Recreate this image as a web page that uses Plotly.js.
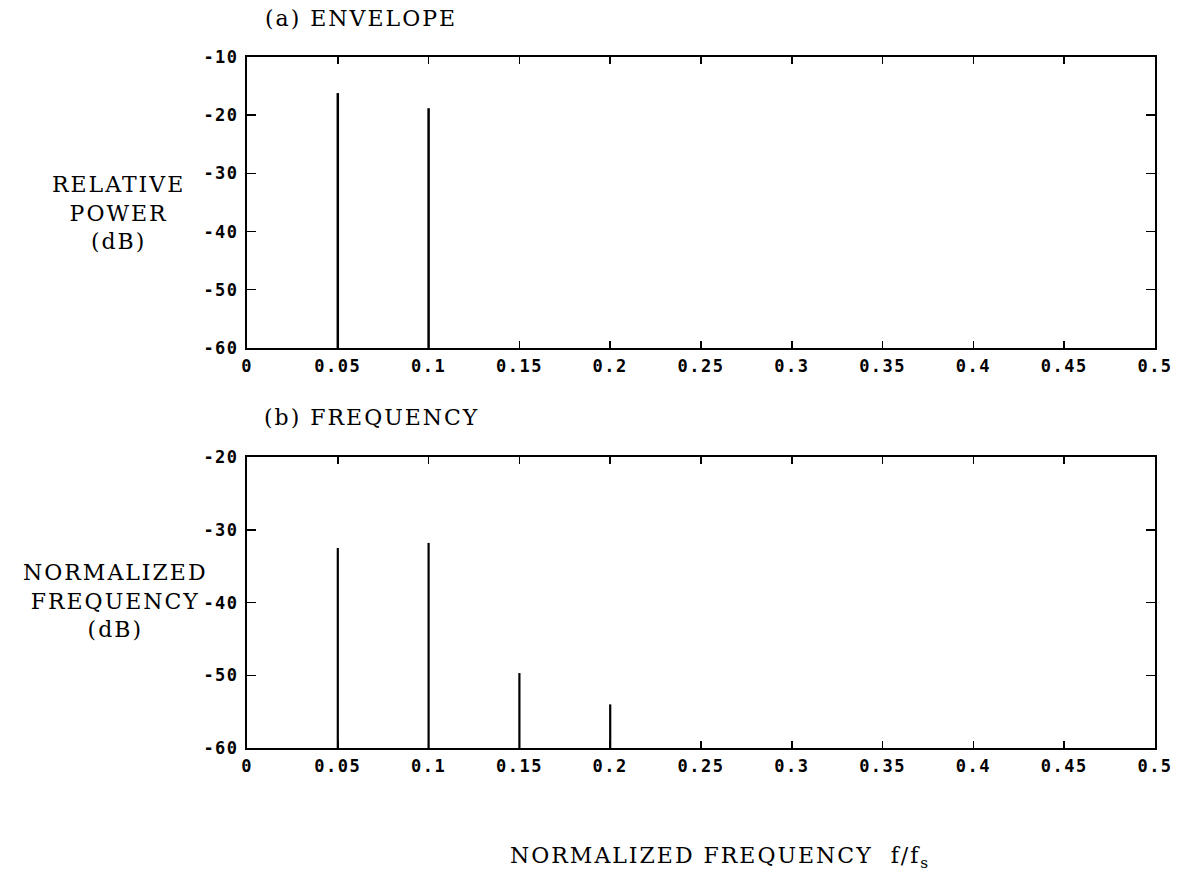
<!DOCTYPE html>
<html>
<head>
<meta charset="utf-8">
<script src="https://cdn.plot.ly/plotly-3.0.1.min.js"></script>
<style>
  html, body { margin: 0; padding: 0; background: #fff; }
  #chart { width: 1182px; height: 873px; }
  .annotation-text { letter-spacing: 2px; }
  .xtick text, .x2tick text, .ytick text, .y2tick text { letter-spacing: 1.5px; }
</style>
</head>
<body>
<div id="chart"></div>
<script>
// ---- Data ----
const envelopeFreq = [0.05, 0.1];
const envelopeDb   = [-16.2, -18.8];

const frequencyFreq = [0.05, 0.1, 0.15, 0.2];
const frequencyDb   = [-32.5, -31.8, -49.7, -54.0];

const xTickVals = [0, 0.05, 0.1, 0.15, 0.2, 0.25, 0.3, 0.35, 0.4, 0.45, 0.5];
const xTickText = ["0", "0.05", "0.1", "0.15", "0.2", "0.25", "0.3", "0.35", "0.4", "0.45", "0.5"];
const yTopTicks = [-60, -50, -40, -30, -20, -10];
const yBotTicks = [-60, -50, -40, -30, -20];
const floorDb = -60;

// Build spike (stem) polylines from the data arrays
function stems(fs, vs) {
  const x = [], y = [];
  fs.forEach((f, i) => { x.push(f, f, null); y.push(floorDb, vs[i], null); });
  return { x, y };
}
const sTop = stems(envelopeFreq, envelopeDb);
const sBot = stems(frequencyFreq, frequencyDb);

const traces = [
  { x: sTop.x, y: sTop.y, xaxis: 'x', yaxis: 'y', mode: 'lines',
    line: { color: '#000', width: 2.5 }, hoverinfo: 'skip', showlegend: false },
  { x: sBot.x, y: sBot.y, xaxis: 'x2', yaxis: 'y2', mode: 'lines',
    line: { color: '#000', width: 2.2 }, hoverinfo: 'skip', showlegend: false }
];

const tickFont = { family: 'DejaVu Sans Mono', size: 17, color: '#000', weight: 'bold' };
const serif = { family: 'DejaVu Serif', size: 22, color: '#000' };

function xAxis(anchor) {
  return {
    domain: [0, 1], anchor: anchor, range: [0, 0.5],
    tickmode: 'array', tickvals: xTickVals, ticktext: xTickText,
    ticks: 'inside', ticklen: 7, tickwidth: 1.5, tickcolor: '#000',
    showline: true, linecolor: '#000', linewidth: 2, mirror: 'allticks',
    showgrid: false, zeroline: false, tickfont: tickFont, ticklabelstandoff: 2
  };
}
function yAxis(anchor, dom, range, ticks) {
  return {
    domain: dom, anchor: anchor, range: range,
    tickmode: 'array', tickvals: ticks, ticktext: ticks.map(String),
    ticks: 'inside', ticklen: 9, tickwidth: 1.5, tickcolor: '#000',
    showline: true, linecolor: '#000', linewidth: 2, mirror: 'allticks',
    showgrid: false, zeroline: false, tickfont: tickFont, ticklabelstandoff: 3
  };
}

const layout = {
  width: 1182, height: 873,
  margin: { l: 247, r: 27, t: 57, b: 125 },
  paper_bgcolor: '#fff', plot_bgcolor: '#fff',
  xaxis: xAxis('y'),
  yaxis: yAxis('x', [0.579, 1], [-60, -10], yTopTicks),
  xaxis2: xAxis('y2'),
  yaxis2: yAxis('x2', [0, 0.421], [-60, -20], yBotTicks),
  annotations: [
    { text: '(a) ENVELOPE', xref: 'paper', yref: 'paper', x: 0.018, y: 1.056,
      xanchor: 'left', yanchor: 'middle', showarrow: false, font: serif },
    { text: '(b) FREQUENCY', xref: 'paper', yref: 'paper', x: 0.016, y: 0.4776,
      xanchor: 'left', yanchor: 'middle', showarrow: false, font: serif },
    { text: 'RELATIVE<br>POWER<br>(dB)', xref: 'paper', yref: 'paper', x: -0.141, y: 0.774,
      xanchor: 'center', yanchor: 'middle', align: 'center', showarrow: false, font: serif },
    { text: 'NORMALIZED<br>FREQUENCY<br>(dB)', xref: 'paper', yref: 'paper', x: -0.145, y: 0.2127,
      xanchor: 'center', yanchor: 'middle', align: 'center', showarrow: false, font: serif },
    { text: 'NORMALIZED FREQUENCY  f/f<sub>s</sub>', xref: 'paper', yref: 'paper', x: 0.521, y: -0.159,
      xanchor: 'center', yanchor: 'middle', showarrow: false, font: serif }
  ]
};

Plotly.newPlot('chart', traces, layout, { staticPlot: true, displayModeBar: false });
</script>
</body>
</html>
